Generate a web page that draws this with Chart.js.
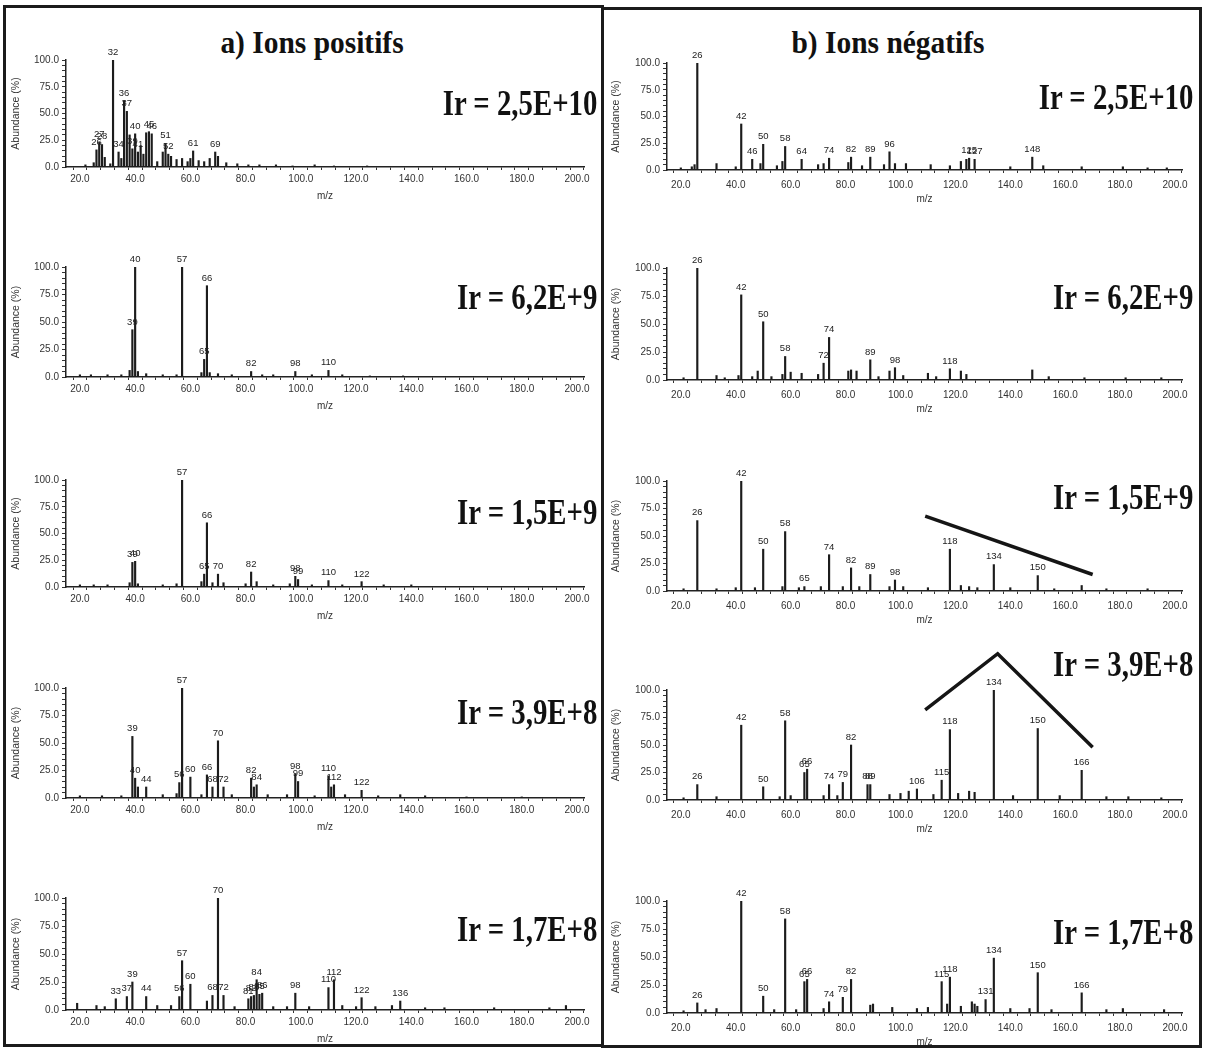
<!DOCTYPE html>
<html>
<head>
<meta charset="utf-8">
<script src="https://cdn.jsdelivr.net/npm/chart.js@4.4.0/dist/chart.umd.min.js"></script>
<style>
body { margin: 0; background: #fff; }
#fig { position: relative; width: 1208px; height: 1049px; overflow: hidden; background: #fff; }
.box { position: absolute; box-sizing: border-box; border: 3px solid #1b1b1b; z-index: 3; }
.ttl { position: absolute; font: bold 32px 'Liberation Serif', serif; color: #111; transform: translate(-50%, -50%) scaleX(0.92); white-space: nowrap; }
.ir { position: absolute; font: bold 36px 'Liberation Serif', serif; color: #111; transform: translateY(-50%) scaleX(0.8); transform-origin: right center; white-space: nowrap; z-index: 2; }
canvas { position: absolute; }
</style>
</head>
<body>
<div id="fig">
  <div class="box" style="left:3px;top:5px;width:601px;height:1042px"></div>
  <div class="box" style="left:601px;top:7px;width:601px;height:1041px"></div>
  <div class="ttl" style="left:312px;top:42px">a) Ions positifs</div>
  <div class="ttl" style="left:888px;top:42px">b) Ions négatifs</div>
</div>
<script>
// --- a) ions positifs ---
const a1Mz = [22, 25, 26, 27, 28, 29, 31, 32, 34, 35, 36, 37, 38, 39, 40, 41, 42, 43, 44, 45, 46, 48, 50, 51, 52, 53, 55, 57, 59, 60, 61, 63, 65, 67, 69, 70, 73, 77, 81, 85, 91, 97, 105, 112, 124];
const a1Ab = [2, 4, 16, 23, 21, 9, 3, 100, 14, 8, 62, 52, 30, 17, 31, 14, 20, 12, 32, 33, 31, 5, 14, 22, 12, 10, 7, 8, 5, 8, 15, 6, 5, 8, 14, 10, 4, 3, 2, 2, 2, 1, 2, 1, 1];
const a1Tags = [26, 27, 28, 32, 34, 36, 37, 39, 40, 41, 45, 46, 51, 52, 61, 69];

const a2Mz = [20, 24, 30, 35, 38, 39, 40, 41, 44, 50, 55, 57, 64, 65, 66, 67, 70, 75, 82, 86, 90, 98, 104, 110, 115, 125, 137];
const a2Ab = [2, 2, 2, 2, 6, 43, 100, 5, 3, 2, 2, 100, 4, 16, 83, 4, 3, 2, 5, 2, 2, 5, 2, 6, 2, 1, 1];
const a2Tags = [39, 40, 57, 65, 66, 82, 98, 110];

const a3Mz = [20, 25, 30, 38, 39, 40, 41, 50, 55, 57, 64, 65, 66, 68, 70, 72, 80, 82, 84, 90, 96, 98, 99, 104, 110, 115, 122, 130, 140];
const a3Ab = [2, 2, 2, 4, 23, 24, 3, 2, 3, 100, 5, 12, 60, 4, 12, 4, 3, 14, 5, 2, 3, 10, 7, 2, 6, 2, 5, 2, 2];
const a3Tags = [39, 40, 57, 65, 66, 70, 82, 98, 99, 110, 122];

const a4Mz = [20, 28, 35, 39, 40, 41, 44, 50, 55, 56, 57, 60, 64, 66, 68, 70, 72, 75, 82, 83, 84, 88, 95, 98, 99, 105, 110, 111, 112, 116, 122, 128, 136, 145, 160, 180];
const a4Ab = [2, 2, 2, 56, 18, 10, 10, 3, 4, 14, 100, 19, 3, 21, 10, 52, 10, 3, 18, 10, 12, 3, 3, 22, 15, 2, 20, 10, 12, 3, 7, 2, 3, 2, 1, 1];
const a4Tags = [39, 40, 44, 56, 57, 60, 66, 68, 70, 72, 82, 84, 98, 99, 110, 112, 122];

const a5Mz = [19, 26, 29, 33, 37, 39, 44, 48, 53, 56, 57, 60, 66, 68, 70, 72, 76, 81, 82, 83, 84, 85, 86, 90, 95, 98, 103, 110, 112, 115, 120, 122, 127, 133, 136, 145, 152, 170, 190, 196];
const a5Ab = [6, 4, 3, 10, 12, 25, 12, 4, 4, 12, 44, 23, 8, 13, 100, 13, 3, 10, 12, 13, 27, 14, 15, 3, 3, 15, 3, 20, 27, 4, 3, 11, 3, 4, 8, 2, 2, 2, 2, 4];
const a5Tags = [33, 37, 39, 44, 56, 57, 60, 68, 70, 72, 81, 82, 83, 84, 85, 86, 98, 110, 112, 122, 136];

// --- b) ions négatifs ---
const b1Mz = [20, 24, 25, 26, 33, 40, 42, 46, 49, 50, 55, 57, 58, 64, 70, 72, 74, 81, 82, 86, 89, 94, 96, 98, 102, 111, 118, 122, 124, 125, 127, 140, 148, 152, 166, 181, 190, 197];
const b1Ab = [2, 3, 5, 100, 6, 3, 43, 10, 6, 24, 4, 8, 22, 10, 5, 6, 11, 7, 12, 4, 12, 5, 17, 6, 6, 5, 4, 8, 10, 11, 10, 3, 12, 4, 3, 3, 2, 2];
const b1Tags = [26, 42, 46, 50, 58, 64, 74, 82, 89, 96, 125, 127, 148];

const b2Mz = [21, 26, 33, 36, 41, 42, 46, 48, 50, 53, 57, 58, 60, 64, 70, 72, 74, 81, 82, 84, 89, 92, 96, 98, 101, 110, 113, 118, 122, 124, 148, 154, 167, 182, 195];
const b2Ab = [2, 100, 4, 2, 4, 76, 3, 8, 52, 3, 5, 21, 7, 6, 5, 15, 38, 8, 9, 8, 18, 3, 8, 11, 4, 6, 3, 10, 8, 5, 9, 3, 2, 2, 2];
const b2Tags = [26, 42, 50, 58, 72, 74, 89, 98, 118];

const b3Mz = [21, 26, 33, 40, 42, 47, 50, 57, 58, 63, 65, 71, 74, 79, 82, 85, 89, 96, 98, 101, 110, 118, 122, 125, 128, 134, 140, 150, 156, 166, 175, 190];
const b3Ab = [2, 64, 2, 3, 100, 3, 38, 4, 54, 3, 4, 4, 33, 4, 21, 4, 15, 4, 10, 4, 3, 38, 5, 4, 3, 24, 3, 14, 2, 5, 2, 2];
const b3Tags = [26, 42, 50, 58, 65, 74, 82, 89, 98, 118, 134, 150];
const b3MarkX = [109, 170];
const b3MarkY = [68, 15];

const b4Mz = [21, 26, 33, 42, 50, 56, 58, 60, 65, 66, 72, 74, 77, 79, 82, 88, 89, 96, 100, 103, 106, 112, 115, 118, 121, 125, 127, 134, 141, 150, 158, 166, 175, 183, 195];
const b4Ab = [2, 14, 3, 68, 12, 3, 72, 4, 25, 28, 4, 14, 4, 16, 50, 14, 14, 5, 6, 8, 10, 5, 18, 64, 6, 8, 7, 100, 4, 65, 4, 27, 3, 3, 2];
const b4Tags = [26, 42, 50, 58, 65, 66, 74, 79, 82, 88, 89, 106, 115, 118, 134, 150, 166];
const b4MarkX = [109, 135.4, 170];
const b4MarkY = [82, 133, 48];

const b5Mz = [21, 26, 29, 33, 42, 50, 54, 58, 62, 65, 66, 72, 74, 79, 82, 89, 90, 97, 106, 110, 115, 117, 118, 122, 126, 127, 128, 131, 134, 140, 147, 150, 155, 166, 175, 181, 196];
const b5Ab = [2, 9, 3, 4, 100, 15, 3, 84, 3, 28, 30, 4, 10, 14, 30, 7, 8, 5, 4, 5, 28, 8, 32, 6, 10, 8, 6, 12, 49, 4, 4, 36, 3, 18, 3, 4, 3];
const b5Tags = [26, 42, 50, 58, 65, 66, 74, 79, 82, 115, 118, 131, 134, 150, 166];

const panels = [
  { mz: a1Mz, ab: a1Ab, tags: a1Tags, ir: 'Ir = 2,5E+10', col: 0, y100: 60, y0: 167, irY: 103 },
  { mz: a2Mz, ab: a2Ab, tags: a2Tags, ir: 'Ir = 6,2E+9', col: 0, y100: 267, y0: 377, irY: 297 },
  { mz: a3Mz, ab: a3Ab, tags: a3Tags, ir: 'Ir = 1,5E+9', col: 0, y100: 480, y0: 587, irY: 512 },
  { mz: a4Mz, ab: a4Ab, tags: a4Tags, ir: 'Ir = 3,9E+8', col: 0, y100: 688, y0: 798, irY: 712 },
  { mz: a5Mz, ab: a5Ab, tags: a5Tags, ir: 'Ir = 1,7E+8', col: 0, y100: 898, y0: 1010, irY: 929 },
  { mz: b1Mz, ab: b1Ab, tags: b1Tags, ir: 'Ir = 2,5E+10', col: 1, y100: 63, y0: 170, irY: 97 },
  { mz: b2Mz, ab: b2Ab, tags: b2Tags, ir: 'Ir = 6,2E+9', col: 1, y100: 268, y0: 380, irY: 297 },
  { mz: b3Mz, ab: b3Ab, tags: b3Tags, ir: 'Ir = 1,5E+9', col: 1, y100: 481, y0: 591, irY: 497, markX: b3MarkX, markY: b3MarkY },
  { mz: b4Mz, ab: b4Ab, tags: b4Tags, ir: 'Ir = 3,9E+8', col: 1, y100: 690, y0: 800, irY: 664, markX: b4MarkX, markY: b4MarkY },
  { mz: b5Mz, ab: b5Ab, tags: b5Tags, ir: 'Ir = 1,7E+8', col: 1, y100: 901, y0: 1013, irY: 932 }
];

// peak numbers above the bars
const peakTags = {
  id: 'peakTags',
  afterDatasetsDraw(chart, args, opts) {
    const meta = chart.getDatasetMeta(0);
    const pts = chart.data.datasets[0].data;
    const ctx = chart.ctx;
    ctx.save();
    ctx.font = '9.5px "Liberation Sans", Arial, sans-serif';
    ctx.fillStyle = '#222';
    ctx.textAlign = 'center';
    ctx.textBaseline = 'bottom';
    pts.forEach((p, i) => {
      if (opts.tags.includes(p.x)) {
        const el = meta.data[i];
        ctx.fillText(String(p.x), el.x, el.y - 3);
      }
    });
    ctx.restore();
  }
};

const fig = document.getElementById('fig');
const tickFont = { family: '"Liberation Sans", Arial, sans-serif', size: 10 };
const titleFont = { family: '"Liberation Sans", Arial, sans-serif', size: 10.5 };

panels.forEach(p => {
  const padTop = 45, axisH = 38;
  const left = p.col === 0 ? 9 : 609;
  const yW = p.col === 0 ? 57 : 58;
  const padRight = p.col === 0 ? 14 : 16;
  const cv = document.createElement('canvas');
  cv.width = 589;
  cv.height = p.y0 - p.y100 + padTop + axisH;
  cv.style.left = left + 'px';
  cv.style.top = (p.y100 - padTop) + 'px';
  fig.appendChild(cv);

  const ir = document.createElement('div');
  ir.className = 'ir';
  ir.textContent = p.ir;
  ir.style.right = (p.col === 0 ? 611 : 15) + 'px';
  ir.style.top = p.irY + 'px';
  fig.appendChild(ir);

  const datasets = [{
    type: 'bar',
    data: p.mz.map((m, i) => ({ x: m, y: p.ab[i] })),
    backgroundColor: '#1c1c1c',
    barThickness: 1.5
  }];
  if (p.markX) {
    datasets.push({
      type: 'line',
      data: p.markX.map((m, i) => ({ x: m, y: p.markY[i] })),
      borderColor: '#151515',
      borderWidth: 3.5,
      pointRadius: 0,
      tension: 0,
      clip: false
    });
  }

  new Chart(cv, {
    type: 'bar',
    data: { datasets },
    options: {
      responsive: false,
      animation: false,
      devicePixelRatio: 1,
      layout: { padding: { top: padTop, right: padRight, left: 0, bottom: 0 } },
      plugins: { legend: { display: false }, tooltip: { enabled: false }, peakTags: { tags: p.tags } },
      scales: {
        x: {
          type: 'linear',
          min: 17.5,
          max: 200,
          afterFit: s => { s.height = axisH; },
          border: { color: '#222', width: 1.5 },
          grid: { drawOnChartArea: false, tickLength: 3, color: '#333' },
          ticks: {
            stepSize: 5,
            autoSkip: false,
            maxRotation: 0,
            includeBounds: false,
            padding: p.col === 0 ? 3 : 6,
            color: '#333',
            font: tickFont,
            callback: v => (v % 20 === 0 ? v.toFixed(1) : '')
          },
          title: { display: true, text: 'm/z', color: '#333', font: tickFont, padding: { top: 0, bottom: 3 } }
        },
        y: {
          min: 0,
          max: 100,
          afterFit: s => { s.width = yW; },
          border: { color: '#222', width: 1.5 },
          grid: { drawOnChartArea: false, tickLength: 4, color: '#333' },
          ticks: {
            stepSize: 5,
            autoSkip: false,
            padding: 3,
            color: '#333',
            font: tickFont,
            callback: v => (v % 25 === 0 ? v.toFixed(1) : '')
          },
          title: { display: true, text: 'Abundance (%)', color: '#333', font: titleFont, padding: 1 }
        }
      }
    },
    plugins: [peakTags]
  });
});
</script>
</body>
</html>
